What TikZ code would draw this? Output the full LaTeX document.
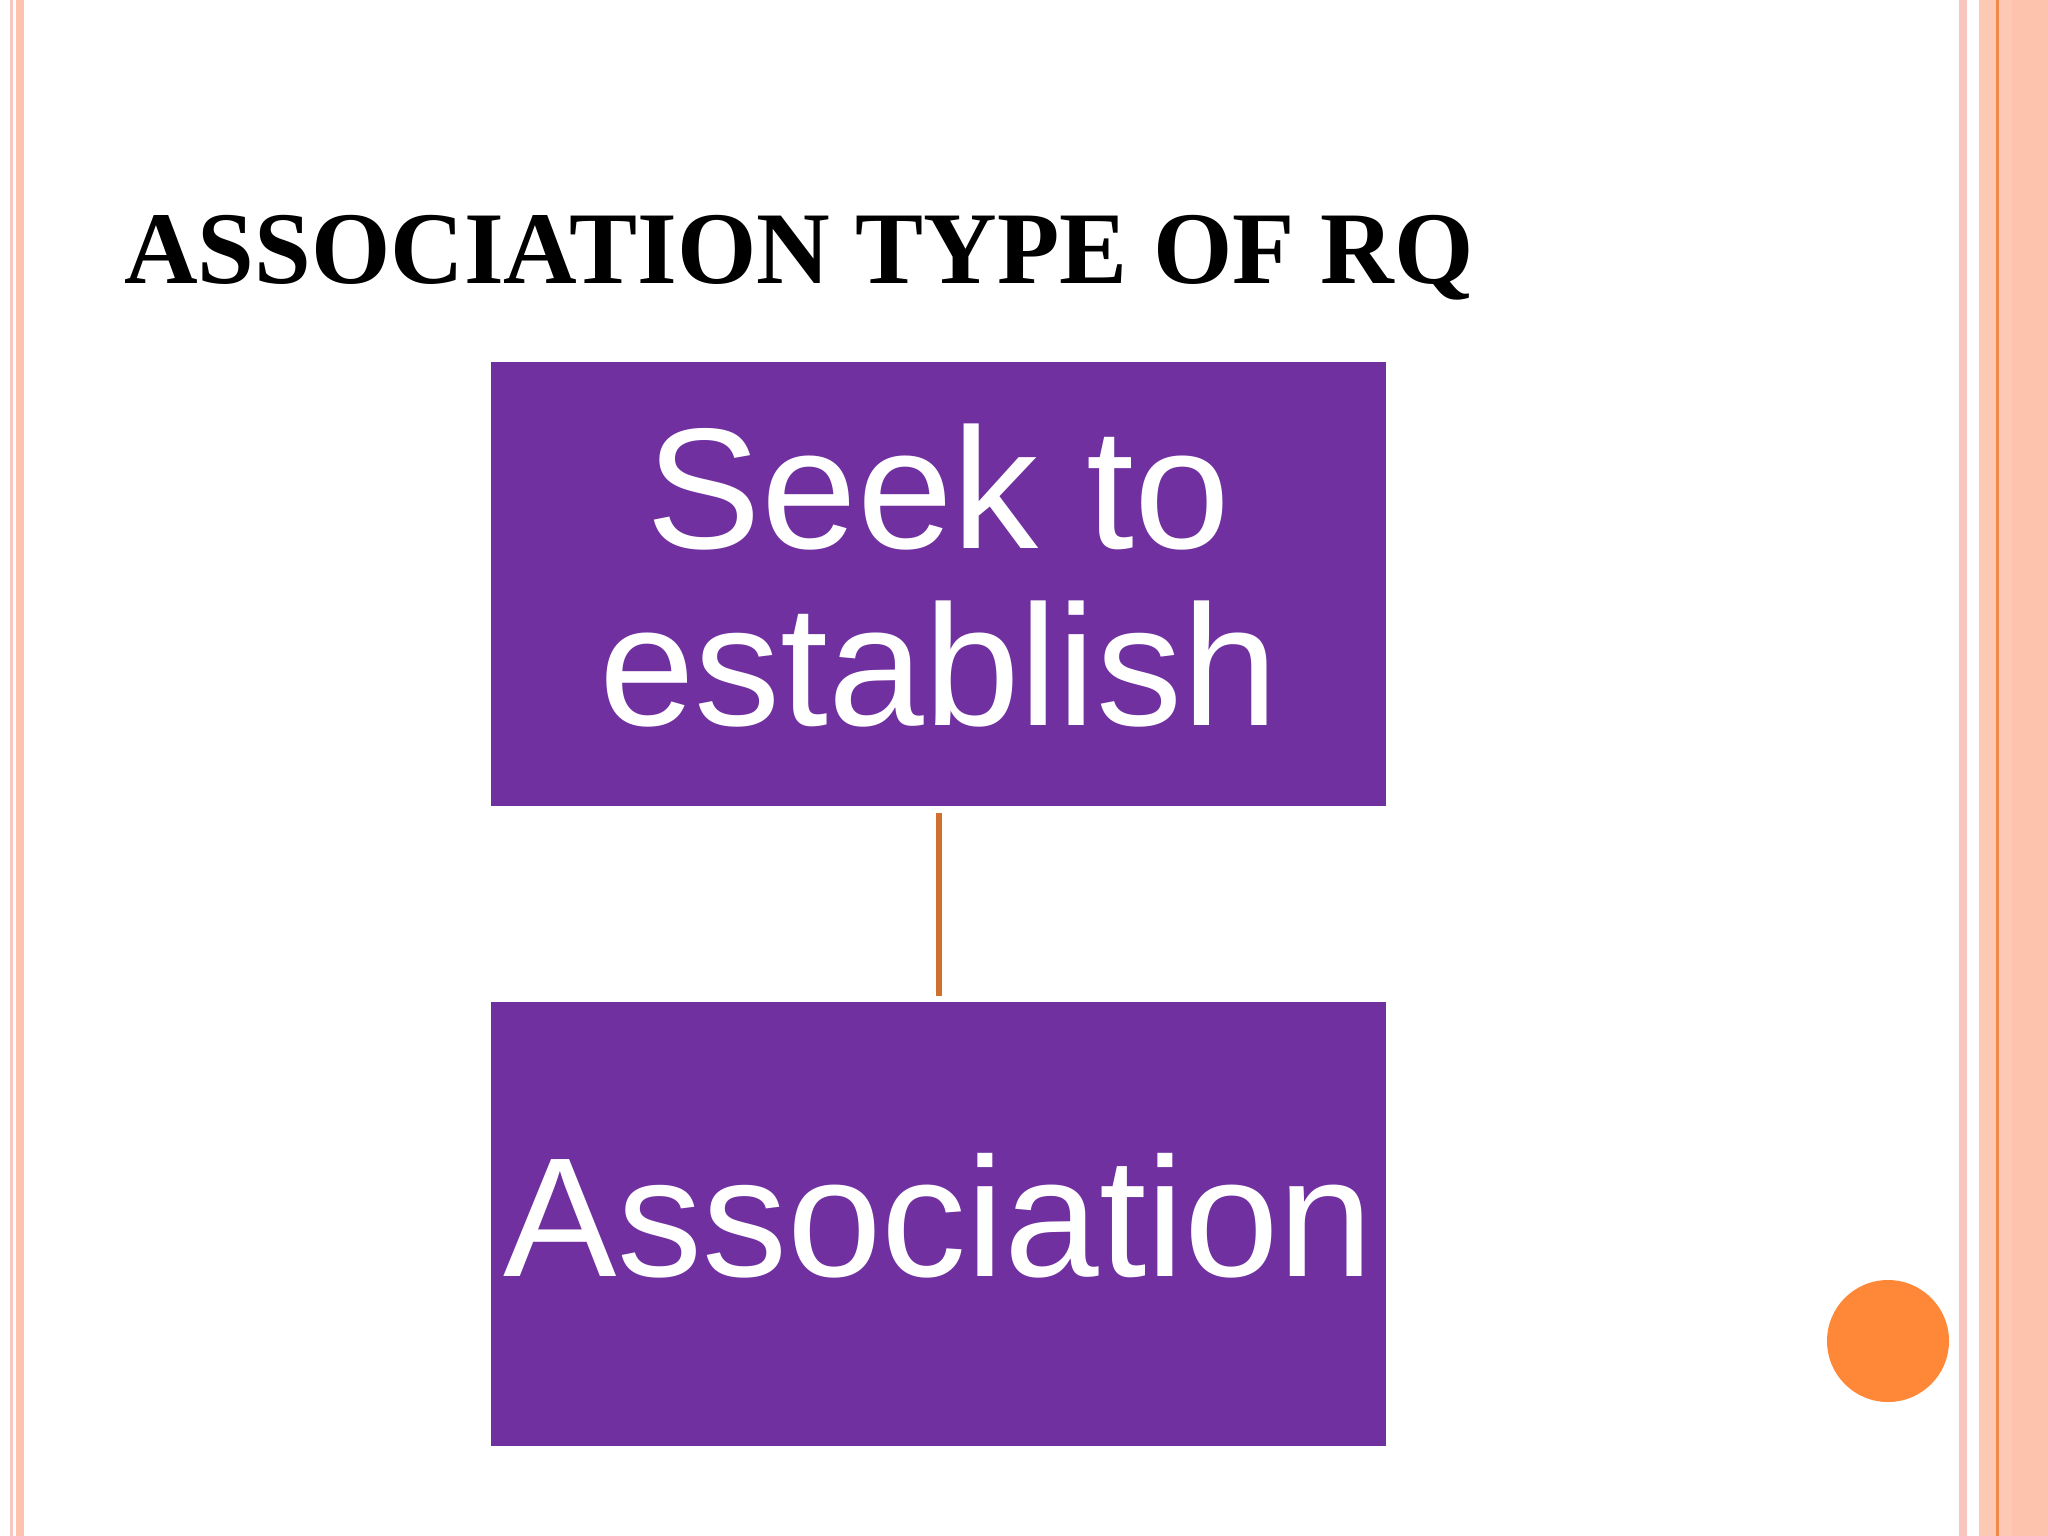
\documentclass[tikz,border=0pt]{standalone}
\usepackage{fontspec}
\setmainfont{Liberation Serif}
\newfontfamily\arialf{Liberation Sans}
\definecolor{boxpurple}{HTML}{7030A0}
\definecolor{linkorange}{HTML}{D0702E}
\definecolor{dotorange}{HTML}{FF8838}
\definecolor{stripepink}{HTML}{F8C6BE}
\definecolor{stripesalmon}{HTML}{FEC3AC}
\definecolor{stripesalmonb}{HTML}{FDC8B4}
\definecolor{stripeline}{HTML}{F08848}
\tikzset{
  x=1pt, y=-1pt,
  stagebox/.style={fill=boxpurple, draw=none, minimum width=895pt, minimum height=444pt, inner sep=0pt, outer sep=0pt},
  boxtext/.style={text=white, font=\arialf\fontsize{172}{177}\selectfont, anchor=base, inner sep=0pt},
  link/.style={draw=linkorange, line width=6pt}
}
\begin{document}
\begin{tikzpicture}
\useasboundingbox (0,0) rectangle (2048,1536);
\fill[white] (0,0) rectangle (2048,1536);
% left stripes
\fill[stripepink] (10,0) rectangle (13,1536);
\fill[stripesalmon] (16,0) rectangle (24,1536);
% right stripes
\fill[stripepink] (1959,0) rectangle (1967,1536);
\fill[stripesalmonb] (1979,0) rectangle (2048,1536);
\fill[stripesalmon] (2012,0) rectangle (2048,1536);
\fill[stripeline] (1996,0) rectangle (1998.5,1536);
% dot
\fill[dotorange] (1888,1341) circle (61);
% title
\node[anchor=base west, inner sep=0pt] (title) at (124,283)
  {\scalebox{0.99}[1]{\fontsize{103}{110}\selectfont\bfseries ASSOCIATION TYPE OF RQ}};
% boxes
\node[stagebox] (seek) at (938.5,584) {};
\node[stagebox] (assoc) at (938.5,1224) {};
\node[boxtext] (seekA) at (938.5,548) {Seek to};
\node[boxtext] (seekB) at (938.5,725) {establish};
\node[boxtext, font=\arialf\fontsize{170}{177}\selectfont] (assocT) at (938.5,1276) {Association};
% connector
\draw[link, shorten <=7pt, shorten >=6pt] (seek.south) -- (assoc.north);
\end{tikzpicture}
\end{document}
